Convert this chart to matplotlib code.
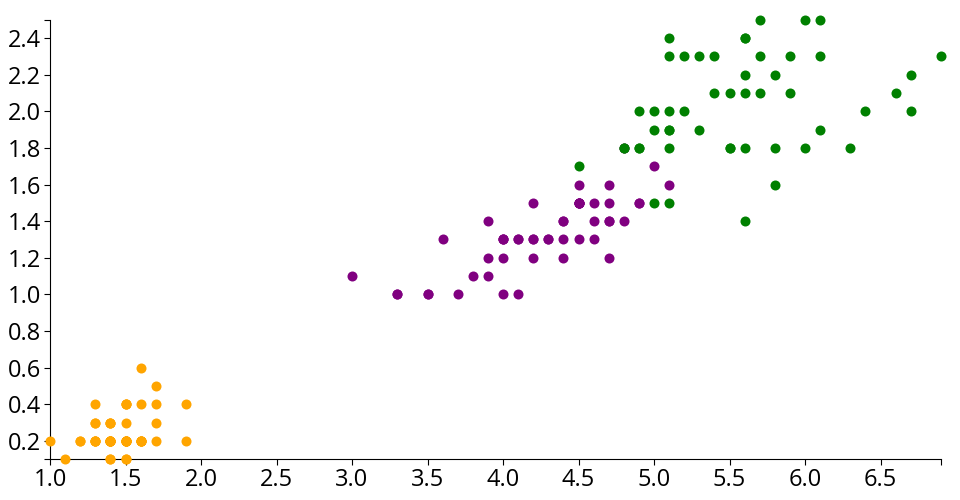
import matplotlib
matplotlib.use('Agg')
from matplotlib import pyplot as plt

# iris petal length / petal width per species
setosa_length = [1.4, 1.4, 1.3, 1.5, 1.4, 1.7, 1.4, 1.5, 1.4, 1.5, 1.5, 1.6, 1.4, 1.1, 1.2, 1.5, 1.3,
                 1.4, 1.7, 1.5, 1.7, 1.5, 1.0, 1.7, 1.9, 1.6, 1.6, 1.5, 1.4, 1.6, 1.6, 1.5, 1.5, 1.4,
                 1.5, 1.2, 1.3, 1.4, 1.3, 1.5, 1.3, 1.3, 1.3, 1.6, 1.9, 1.4, 1.6, 1.4, 1.5, 1.4]
setosa_width = [0.2, 0.2, 0.2, 0.2, 0.2, 0.4, 0.3, 0.2, 0.2, 0.1, 0.2, 0.2, 0.1, 0.1, 0.2, 0.4, 0.4,
                0.3, 0.3, 0.3, 0.2, 0.4, 0.2, 0.5, 0.2, 0.2, 0.4, 0.2, 0.2, 0.2, 0.2, 0.4, 0.1, 0.2,
                0.2, 0.2, 0.2, 0.1, 0.2, 0.2, 0.3, 0.3, 0.2, 0.6, 0.4, 0.3, 0.2, 0.2, 0.2, 0.2]

versicolor_length = [4.7, 4.5, 4.9, 4.0, 4.6, 4.5, 4.7, 3.3, 4.6, 3.9, 3.5, 4.2, 4.0, 4.7, 3.6, 4.4,
                     4.5, 4.1, 4.5, 3.9, 4.8, 4.0, 4.9, 4.7, 4.3, 4.4, 4.8, 5.0, 4.5, 3.5, 3.8, 3.7,
                     3.9, 5.1, 4.5, 4.5, 4.7, 4.4, 4.1, 4.0, 4.4, 4.6, 4.0, 3.3, 4.2, 4.2, 4.2, 4.3,
                     3.0, 4.1]
versicolor_width = [1.4, 1.5, 1.5, 1.3, 1.5, 1.3, 1.6, 1.0, 1.3, 1.4, 1.0, 1.5, 1.0, 1.4, 1.3, 1.4,
                    1.5, 1.0, 1.5, 1.1, 1.8, 1.3, 1.5, 1.2, 1.3, 1.4, 1.4, 1.7, 1.5, 1.0, 1.1, 1.0,
                    1.2, 1.6, 1.5, 1.6, 1.5, 1.3, 1.3, 1.3, 1.2, 1.4, 1.2, 1.0, 1.3, 1.2, 1.3, 1.3,
                    1.1, 1.3]

virginica_length = [6.0, 5.1, 5.9, 5.6, 5.8, 6.6, 4.5, 6.3, 5.8, 6.1, 5.1, 5.3, 5.5, 5.0, 5.1, 5.3,
                    5.5, 6.7, 6.9, 5.0, 5.7, 4.9, 6.7, 4.9, 5.7, 6.0, 4.8, 4.9, 5.6, 5.8, 6.1, 6.4,
                    5.6, 5.1, 5.6, 6.1, 5.6, 5.5, 4.8, 5.4, 5.6, 5.1, 5.1, 5.9, 5.7, 5.2, 5.0, 5.2,
                    5.4, 5.1]
virginica_width = [2.5, 1.9, 2.1, 1.8, 2.2, 2.1, 1.7, 1.8, 1.8, 2.5, 2.0, 1.9, 2.1, 2.0, 2.4, 2.3,
                   1.8, 2.2, 2.3, 1.5, 2.3, 2.0, 2.0, 1.8, 2.1, 1.8, 1.8, 1.8, 2.1, 1.6, 1.9, 2.0,
                   2.2, 1.5, 1.4, 2.3, 2.4, 1.8, 1.8, 2.1, 2.4, 2.3, 1.9, 2.3, 2.5, 2.3, 1.9, 2.0,
                   2.3, 1.8]

x_ticks = [1.0, 1.5, 2.0, 2.5, 3.0, 3.5, 4.0, 4.5, 5.0, 5.5, 6.0, 6.5]
y_ticks = [0.2, 0.4, 0.6, 0.8, 1.0, 1.2, 1.4, 1.6, 1.8, 2.0, 2.2, 2.4]

plt.rcParams['font.family'] = ['Open Sans', 'DejaVu Sans']

fig = plt.figure(figsize=(9.6, 5.0), dpi=100)
ax = fig.add_axes([50 / 960, 40.7 / 500, 891 / 960, 439.6 / 500])

ax.scatter(setosa_length, setosa_width, s=52, color='orange', linewidths=0, zorder=3, clip_on=False)
ax.scatter(versicolor_length, versicolor_width, s=52, color='purple', linewidths=0, zorder=3, clip_on=False)
ax.scatter(virginica_length, virginica_width, s=52, color='green', linewidths=0, zorder=3, clip_on=False)

ax.set_xlim(1.0, 6.9)
ax.set_ylim(0.1, 2.5)
ax.set_xticks(x_ticks)
ax.set_xticklabels(['{:.1f}'.format(v) for v in x_ticks])
ax.set_yticks(y_ticks)
ax.set_yticklabels(['{:.1f}'.format(v) for v in y_ticks])
# outer ticks at the ends of each axis
ax.set_xticks([1.0, 6.9], minor=True)
ax.set_yticks([0.1, 2.5], minor=True)

for side in ['top', 'right']:
    ax.spines[side].set_visible(False)
for side in ['left', 'bottom']:
    ax.spines[side].set_linewidth(0.8)

ax.tick_params(which='both', length=4.32, width=0.8, pad=2.2, labelsize=17, color='black')

plt.savefig('out.png', dpi=100)
